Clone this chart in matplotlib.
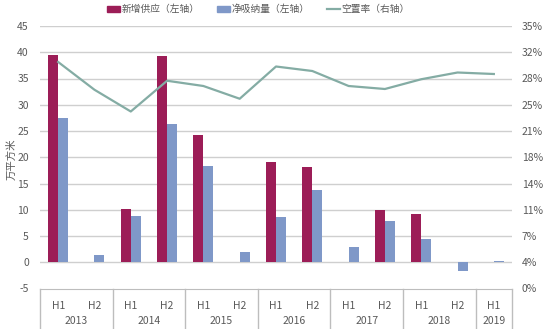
import math
import numpy as np
import matplotlib
matplotlib.use("Agg")
import matplotlib.pyplot as plt
from matplotlib.lines import Line2D
from matplotlib.patches import Patch
import matplotlib.transforms as mtransforms

plt.rcParams['font.family'] = ['Noto Sans CJK SC', 'DejaVu Sans']
plt.rcParams['axes.unicode_minus'] = False

# data
years = ["2013", "2014", "2015", "2016", "2017", "2018", "2019"]
halves = ["H1", "H2", "H1", "H2", "H1", "H2", "H1", "H2", "H1", "H2", "H1", "H2", "H1"]
new_supply = [39.4, 0, 10.1, 39.2, 24.2, 0, 19.1, 18.2, 0, 10.0, 9.1, 0, 0]
net_absorption = [27.4, 1.4, 8.9, 26.3, 18.3, 1.9, 8.6, 13.7, 2.9, 7.9, 4.5, -1.6, 0.2]
vacancy = [30.2, 26.5, 23.6, 27.7, 27.0, 25.3, 29.6, 29.0, 27.0, 26.6, 27.9, 28.8, 28.6]

labels = ["新增供应（左轴）", "净吸纳量（左轴）", "空置率（右轴）"]
c_supply = "#9c1d57"
c_absorb = "#7f98c8"
c_vac = "#84aca4"
c_text = "#595959"
c_grid = "#cfcfcf"

fig = plt.figure(figsize=(5.5, 3.29), dpi=100)
ax = fig.add_axes([40 / 550, 40.5 / 329, 472 / 550, 262.5 / 329])

x = np.arange(len(halves))
w = 0.275
ax.bar(x - w / 2, new_supply, w, color=c_supply, zorder=3)
ax.bar(x + w / 2, net_absorption, w, color=c_absorb, zorder=3)

ax.set_xlim(-0.5, len(halves) - 0.5)
ax.set_ylim(-5, 45)
ax.set_yticks(range(-5, 50, 5))
for v in range(0, 50, 5):
    ax.axhline(v, color=c_grid, lw=1.0, zorder=1)
ax.set_xticks([])
for s in ["top", "left", "right"]:
    ax.spines[s].set_visible(False)
ax.spines["bottom"].set_color("#bdbdbd")
ax.tick_params(axis="y", length=0, labelsize=7.5, labelcolor=c_text, pad=8)
fig.text(12 / 550, 0.515, "万平方米", rotation=90, ha="center", va="center",
         fontsize=7.5, color=c_text)

# right axis for vacancy rate
ax2 = ax.twinx()
ax2.plot(x, np.array(vacancy) / 100, color=c_vac, lw=1.6, zorder=4)
ax2.set_ylim(0, 0.35)
ax2.set_yticks([i * 0.035 for i in range(11)])
ax2.set_yticklabels([f"{math.floor(i * 3.5 + 0.5)}%" for i in range(11)])
for s in ["top", "left", "right", "bottom"]:
    ax2.spines[s].set_visible(False)
ax2.tick_params(axis="y", length=0, labelsize=7.5, labelcolor=c_text, pad=7)

# two level category axis drawn as a table
trans = mtransforms.blended_transform_factory(ax.transData, ax.transAxes)
for i, h in enumerate(halves):
    ax.text(i, -0.065, h, transform=trans, ha="center", va="center",
            fontsize=7.5, color=c_text)
for j, yr in enumerate(years):
    ax.text(2 * j + (0.5 if j < 6 else 0), -0.125, yr, transform=trans,
            ha="center", va="center", fontsize=7.5, color=c_text)
for xs in [-0.5, 1.5, 3.5, 5.5, 7.5, 9.5, 11.5, 12.5]:
    ax.plot([xs, xs], [0, -0.3], transform=trans, color="#bdbdbd",
            lw=1.0, clip_on=False)

handles = [Patch(color=c_supply), Patch(color=c_absorb),
           Line2D([0], [0], color=c_vac, lw=1.6)]
fig.legend(handles, labels, loc="center", bbox_to_anchor=(0.47, 0.972), ncol=3,
           frameon=False, fontsize=7, handlelength=1.3, handleheight=0.6,
           handletextpad=0.2, columnspacing=1.8, labelcolor=c_text)

fig.savefig("out.png", dpi=100)
